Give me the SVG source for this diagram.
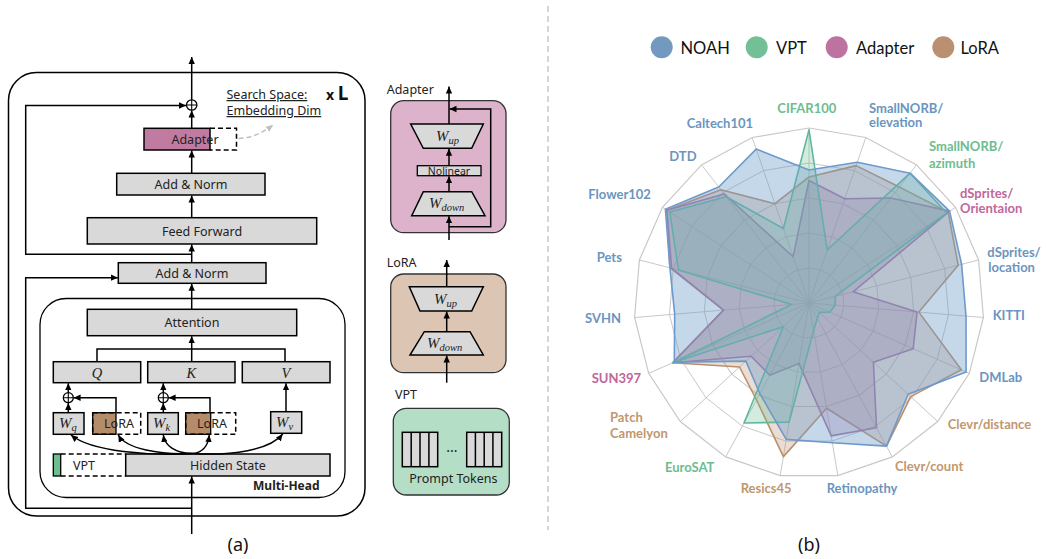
<svg xmlns="http://www.w3.org/2000/svg" xmlns:xlink="http://www.w3.org/1999/xlink" width="1046" height="559" viewBox="0 0 1046 559">
<style>
.box{fill:#D9D9D9;stroke:#000;stroke-width:1.5}
.t{font-family:"Noto Sans","Open Sans",sans-serif;font-size:12.5px;fill:#222}
.tc{text-anchor:middle}
.m{font-family:"Liberation Serif","DejaVu Serif",serif;font-style:italic;fill:#222}
.ln{fill:none;stroke:#000;stroke-width:1.5}
.dash{fill:none;stroke:#000;stroke-width:1.5;stroke-dasharray:5,3}
.lab{font-family:Lato,"Open Sans",sans-serif;font-weight:bold;font-size:13px}
.bl{fill:#6B95C0}.gr{fill:#6DBD8E}.pk{fill:#C0679A}.br{fill:#C0986F}
.ring{fill:none;stroke:#C8C8C8}
.leg{font-family:Lato,"Open Sans",sans-serif;font-size:16.5px;fill:#111}
</style>
<defs>
<marker id="ah" markerUnits="userSpaceOnUse" markerWidth="8" markerHeight="8" refX="7" refY="4" orient="auto">
<path d="M0,0.8 L7,4 L0,7.2 z" fill="#000"/>
</marker>
<marker id="ahg" markerUnits="userSpaceOnUse" markerWidth="8" markerHeight="8" refX="7" refY="4" orient="auto">
<path d="M0,0.8 L7,4 L0,7.2 z" fill="#BFBFBF"/>
</marker>
<polygon id="ringp" points="0,-175 56.8,-165.5 107.5,-138.1 146.5,-95.7 169.6,-43 174.4,14.5 160.3,70.3 128.7,118.5 83.3,153.9 28.8,172.6 -28.8,172.6 -83.3,153.9 -128.7,118.5 -160.3,70.3 -174.4,14.5 -169.6,-43 -146.5,-95.7 -107.5,-138.1 -56.8,-165.5"/>
</defs>
<rect width="1046" height="559" fill="#fff"/>

<!-- separator -->
<line x1="548" y1="6" x2="548" y2="530" stroke="#BFBFBF" stroke-width="1.3" stroke-dasharray="6,4"/>

<!-- ============ PANEL A ============ -->
<g id="encoder-frame">
<rect x="8.5" y="72.5" width="356.5" height="443.5" rx="28" fill="none" stroke="#000" stroke-width="1.5"/>
</g>
<g id="multihead-frame">
<rect x="40" y="298.5" width="305" height="199" rx="26" fill="none" stroke="#000" stroke-width="1.3"/>
<text x="319.5" y="489.5" class="t" style="font-weight:bold;font-size:12px" text-anchor="end">Multi-Head</text>
</g>
<g id="search-space">
<text x="226.5" y="99" class="t" style="font-size:12.5px;text-decoration:underline">Search Space:</text>
<text x="226.5" y="115" class="t" style="font-size:12.5px;text-decoration:underline">Embedding Dim</text>
<text x="326" y="99.5" style="font-family:'Noto Sans',sans-serif;font-size:14px;font-weight:bold;fill:#111">x <tspan style="font-size:19px">L</tspan></text>
</g>
<g id="oplus1"><circle cx="191.7" cy="105" r="5.2" fill="#fff" stroke="#000" stroke-width="1.3"/><path d="M186.5,105 H196.9 M191.7,99.8 V110.2" stroke="#000" stroke-width="1.1"/></g>
<g id="adapter-block">
<rect x="144" y="128.3" width="66" height="21.7" fill="#C27BA0" stroke="#000" stroke-width="1.5"/>
<path d="M210,128.3 H236.5 V150 H210" class="dash"/>
<text x="195" y="143.5" class="t tc">Adapter</text>
</g>
<g id="addnorm1"><rect x="116.7" y="173.3" width="148.3" height="21.7" class="box"/><text x="191" y="188.7" class="t tc">Add &amp; Norm</text></g>
<g id="feedforward"><rect x="87.3" y="217.7" width="229.4" height="26.3" class="box"/><text x="202" y="235.5" class="t tc">Feed Forward</text></g>
<g id="addnorm2"><rect x="118.3" y="262.7" width="147.7" height="20.6" class="box"/><text x="192" y="277.5" class="t tc">Add &amp; Norm</text></g>
<g id="attention"><rect x="87.3" y="309.3" width="209.4" height="26.4" class="box"/><text x="192" y="327" class="t tc">Attention</text></g>
<g id="q"><rect x="53.3" y="361.7" width="87.4" height="21" class="box"/><text x="97" y="377.5" class="m tc" font-size="14.5">Q</text></g>
<g id="k"><rect x="147.7" y="361.7" width="87.3" height="21" class="box"/><text x="191.3" y="377.5" class="m tc" font-size="14.5">K</text></g>
<g id="v"><rect x="242.3" y="361.7" width="87.7" height="21" class="box"/><text x="286" y="377.5" class="m tc" font-size="14.5">V</text></g>
<g id="oplusq"><circle cx="68.3" cy="397.7" r="5" fill="#fff" stroke="#000" stroke-width="1.3"/><path d="M63.3,397.7 H73.3 M68.3,392.7 V402.7" stroke="#000" stroke-width="1.1"/></g>
<g id="oplusk"><circle cx="163.3" cy="397.7" r="5" fill="#fff" stroke="#000" stroke-width="1.3"/><path d="M158.3,397.7 H168.3 M163.3,392.7 V402.7" stroke="#000" stroke-width="1.1"/></g>
<g id="wq"><rect x="53.3" y="412.7" width="30.7" height="21.6" class="box"/><text x="59" y="428" class="m" font-size="15">W<tspan font-size="10.5" dy="3">q</tspan></text></g>
<g id="lora1"><rect x="92.7" y="412.7" width="23.3" height="21.6" fill="#B58C6A" stroke="#000" stroke-width="1.3"/><rect x="92.7" y="412.7" width="48" height="21.6" class="dash"/><text x="119" y="428" class="t tc">LoRA</text></g>
<g id="wk"><rect x="147.7" y="412.7" width="30.6" height="21.6" class="box"/><text x="153" y="428" class="m" font-size="15">W<tspan font-size="10.5" dy="3">k</tspan></text></g>
<g id="lora2"><rect x="185.7" y="412.7" width="25" height="21.6" fill="#B58C6A" stroke="#000" stroke-width="1.3"/><rect x="185.7" y="412.7" width="50" height="21.6" class="dash"/><text x="212" y="428" class="t tc">LoRA</text></g>
<g id="wv"><rect x="270.7" y="411.7" width="31" height="21.6" class="box"/><text x="276" y="427" class="m" font-size="15">W<tspan font-size="10.5" dy="3">v</tspan></text></g>
<g id="vpt-token"><rect x="53.3" y="454" width="7.4" height="22" fill="#6DBE8E" stroke="#000" stroke-width="1.3"/><path d="M60.7,454 H125.7 M60.7,476 H125.7" class="dash"/><text x="84" y="470" class="t tc">VPT</text></g>
<g id="hidden"><rect x="125.7" y="454" width="204.3" height="22" class="box"/><text x="228" y="469.5" class="t tc">Hidden State</text></g>

<g id="connectors-a" class="ln">
<path d="M191.7,99.8 V57" marker-end="url(#ah)"/>
<path d="M191.7,128.3 V110.5" marker-end="url(#ah)"/>
<path d="M191.7,254.3 H25.7 V105.5 H186" marker-end="url(#ah)"/>
<path d="M191.7,173.3 V150.5" marker-end="url(#ah)"/>
<path d="M191.7,217.7 V195.5" marker-end="url(#ah)"/>
<path d="M191.7,262.7 V244.5" marker-end="url(#ah)"/>
<path d="M191.7,309.3 V283.8" marker-end="url(#ah)"/>
<path d="M191.7,508.3 H25.7 V277.7 H117.8" marker-end="url(#ah)"/>
<path d="M191.7,534 V476.5" marker-end="url(#ah)"/>
<path d="M97,361.7 V349 H285 V361.7"/>
<path d="M191.7,361.7 V336.2" marker-end="url(#ah)"/>
<path d="M68.3,392.7 V383.2" marker-end="url(#ah)"/>
<path d="M68.3,412.7 V403" marker-end="url(#ah)"/>
<path d="M116,412.7 V397.7 H73.6" marker-end="url(#ah)"/>
<path d="M163.3,392.7 V383.2" marker-end="url(#ah)"/>
<path d="M163.3,412.7 V403" marker-end="url(#ah)"/>
<path d="M210,412.7 V397.7 H168.6" marker-end="url(#ah)"/>
<path d="M286,411.7 V383.2" marker-end="url(#ah)"/>
<path d="M191.7,453.5 C150,456 92,452 71,435" marker-end="url(#ah)"/>
<path d="M191.7,453.5 C160,455 126,449 118.3,435" marker-end="url(#ah)"/>
<path d="M191.7,453.5 C175,453 165,446 163.3,435" marker-end="url(#ah)"/>
<path d="M191.7,453.5 C202,453 208,446 209.3,435" marker-end="url(#ah)"/>
<path d="M191.7,453.5 C232,456 270,450 282.7,434" marker-end="url(#ah)"/>
<path d="M238.5,138.5 Q256,138 273,125" stroke="#BFBFBF" stroke-dasharray="5,3" marker-end="url(#ahg)"/>
</g>

<!-- Adapter module -->
<g id="adapter-module">
<text x="386.7" y="94" class="t">Adapter</text>
<rect x="390.7" y="100.7" width="115.3" height="132" rx="13" fill="#DDB3CC" stroke="#333" stroke-width="1.3"/>
<polygon points="410.7,124 483.3,124 471.7,148.3 423.3,148.3" class="box"/>
<text x="436" y="141" class="m" font-size="15">W<tspan font-size="10.5" dy="3">up</tspan></text>
<rect x="417.3" y="165.7" width="63.7" height="10" class="box" style="stroke-width:1.3"/>
<text x="449" y="174.5" class="t tc" style="font-size:10.5px">Nolinear</text>
<polygon points="423.3,191.7 471.7,191.7 485,215.7 411.7,215.7" class="box"/>
<text x="429" y="208" class="m" font-size="15">W<tspan font-size="10.5" dy="3">down</tspan></text>
</g>
<g id="lora-module">
<text x="386.7" y="266.7" class="t">LoRA</text>
<rect x="390.7" y="274" width="115.3" height="98.7" rx="13" fill="#DCC6B3" stroke="#333" stroke-width="1.3"/>
<polygon points="409.3,286.7 483.3,286.7 471.7,311 420,311" class="box"/>
<text x="434" y="303.5" class="m" font-size="15">W<tspan font-size="10.5" dy="3">up</tspan></text>
<polygon points="424.3,331.7 470,331.7 483.3,355 410,355" class="box"/>
<text x="427" y="347.5" class="m" font-size="15">W<tspan font-size="10.5" dy="3">down</tspan></text>
</g>
<g id="vpt-module">
<text x="395" y="399.3" class="t">VPT</text>
<rect x="393.3" y="408.3" width="116" height="86.7" rx="13" fill="#B5DEC6" stroke="#333" stroke-width="1.3"/>
<rect x="402.3" y="432.3" width="35.4" height="34.4" class="box"/>
<path d="M411.2,432.3 V466.7 M420,432.3 V466.7 M428.9,432.3 V466.7" stroke="#000" stroke-width="1.5"/>
<rect x="466.7" y="432.3" width="35" height="34.4" class="box"/>
<path d="M475.4,432.3 V466.7 M484.2,432.3 V466.7 M492.9,432.3 V466.7" stroke="#000" stroke-width="1.5"/>
<text x="452" y="456" class="t tc" style="font-size:14px">···</text>
<text x="409.3" y="483.3" class="t">Prompt Tokens</text>
</g>
<g id="connectors-modules" class="ln">
<path d="M449,240 V216.2" marker-end="url(#ah)"/>
<path d="M449,191.7 V176.2" marker-end="url(#ah)"/>
<path d="M449,165.7 V148.8" marker-end="url(#ah)"/>
<path d="M449,124 V86.5" marker-end="url(#ah)"/>
<path d="M449,226.7 H490.7 V109 H449.5" marker-end="url(#ah)"/>
<path d="M446.7,382.7 V355.5" marker-end="url(#ah)"/>
<path d="M446.7,331.7 V311.5" marker-end="url(#ah)"/>
<path d="M446.7,286.7 V260" marker-end="url(#ah)"/>
</g>
<text x="238" y="551" class="t tc" style="font-size:18px;fill:#111">(a)</text>

<!-- ============ PANEL B ============ -->
<g id="legend">
<circle cx="661.7" cy="47.3" r="11" fill="#7399BE"/><text x="680.5" y="53.5" class="leg">NOAH</text>
<circle cx="756.7" cy="47.3" r="11" fill="#74C096"/><text x="776" y="53.5" class="leg">VPT</text>
<circle cx="836.7" cy="47.3" r="11" fill="#BD73A0"/><text x="856" y="53.5" class="leg">Adapter</text>
<circle cx="943.3" cy="47.3" r="11" fill="#BA9070"/><text x="960.5" y="53.5" class="leg">LoRA</text>
</g>
<g id="radar-grid" transform="translate(809,303)">
<use href="#ringp" class="ring" transform="scale(0.2)" stroke-width="5"/>
<use href="#ringp" class="ring" transform="scale(0.4)" stroke-width="2.5"/>
<use href="#ringp" class="ring" transform="scale(0.6)" stroke-width="1.67"/>
<use href="#ringp" class="ring" transform="scale(0.8)" stroke-width="1.25"/>
<use href="#ringp" class="ring" stroke-width="1.2"/>
<path stroke="#C8C8C8" stroke-width="1" fill="none" d="M0,0 L0,-175 M0,0 L56.8,-165.5 M0,0 L107.5,-138.1 M0,0 L146.5,-95.7 M0,0 L169.6,-43 M0,0 L174.4,14.5 M0,0 L160.3,70.3 M0,0 L128.7,118.5 M0,0 L83.3,153.9 M0,0 L28.8,172.6 M0,0 L-28.8,172.6 M0,0 L-83.3,153.9 M0,0 L-128.7,118.5 M0,0 L-160.3,70.3 M0,0 L-174.4,14.5 M0,0 L-169.6,-43 M0,0 L-146.5,-95.7 M0,0 L-107.5,-138.1 M0,0 L-56.8,-165.5"/>
</g>
<g id="series" transform="translate(809,303)" stroke-width="1.6" stroke-linejoin="round">
<polygon id="lora-series" fill="#B98F6C" fill-opacity="0.3" stroke="#B98F6C" points="0,-126 47.1,-137.4 90.3,-116 139.2,-90.9 149.2,-37.8 109.9,9.1 152.3,66.8 101.7,93.6 77.5,143.1 17.6,105.3 -25.6,153.6 -52.5,97 -69.5,64 -136.3,59.8 -85.5,7.1 -139.1,-35.3 -142.1,-92.8 -88.2,-113.2 -34.1,-99.3"/>
<polygon id="adapter-series" fill="#B06C9A" fill-opacity="0.3" stroke="#A774A0" points="0,-122.5 35.8,-104.3 81.7,-105 140.6,-91.9 44.1,-11.2 108.1,9 104.2,45.7 64.4,59.3 67.5,124.7 22.2,132.9 -10.1,60.4 -39.2,72.3 -57.9,53.3 -136.3,59.8 -85.5,7.1 -137.4,-34.8 -142.1,-92.8 -84.9,-109.1 -15.9,-46.3"/>
<polygon id="vpt-series" fill="#6FBF94" fill-opacity="0.3" stroke="#5FB99A" points="0,-173.3 18.2,-53 101.1,-129.8 137.7,-90 26.3,-6.7 26.2,2.2 20.8,9.1 10.3,9.5 8.3,15.4 4.6,27.6 -19.9,119.1 -65,120 -25.7,23.7 -136.3,59.8 -17.4,1.5 -130.6,-33.1 -139.2,-90.9 -82.8,-106.3 -25.6,-74.5"/>
<polygon id="noah-series" fill="#6E9DCB" fill-opacity="0.4" stroke="#6E9ACB" points="0,-133 48.3,-140.7 101.1,-129.8 140.6,-91.9 152.6,-38.7 157,13.1 157.1,68.9 99.1,91.2 77.5,143.1 23.3,139.8 -22.8,136.4 -49.1,90.8 -63.1,58.1 -134.7,59.1 -134.3,11.2 -139.1,-35.3 -143.6,-93.8 -90.3,-116 -52.8,-153.9"/>
</g>
<g id="radar-labels" class="lab">
<text x="777.3" y="112.7" class="gr">CIFAR100</text>
<text x="869" y="112.7" class="bl">SmallNORB/</text>
<text x="869" y="127.3" class="bl">elevation</text>
<text x="686.7" y="128.3" class="bl">Caltech101</text>
<text x="669.3" y="161" class="bl">DTD</text>
<text x="929" y="150.7" class="gr">SmallNORB/</text>
<text x="929" y="168.3" class="gr">azimuth</text>
<text x="588.3" y="199.3" class="bl">Flower102</text>
<text x="960" y="198.3" class="pk">dSprites/</text>
<text x="960" y="213" class="pk">Orientaion</text>
<text x="596.7" y="261.7" class="bl">Pets</text>
<text x="987.3" y="256.7" class="bl">dSprites/</text>
<text x="988.3" y="271.7" class="bl">location</text>
<text x="585" y="323.3" class="bl">SVHN</text>
<text x="992.7" y="320" class="bl">KITTI</text>
<text x="591.7" y="383.3" class="pk">SUN397</text>
<text x="979.3" y="381.7" class="bl">DMLab</text>
<text x="610" y="421.7" class="br">Patch</text>
<text x="610" y="438.3" class="br">Camelyon</text>
<text x="947.7" y="429.3" class="br">Clevr/distance</text>
<text x="665" y="471.7" class="gr">EuroSAT</text>
<text x="895" y="470.7" class="br">Clevr/count</text>
<text x="740.7" y="492.7" class="br">Resics45</text>
<text x="826.7" y="492.7" class="bl">Retinopathy</text>
</g>
<text x="809" y="551" class="t tc" style="font-size:18px;fill:#111">(b)</text>
</svg>
